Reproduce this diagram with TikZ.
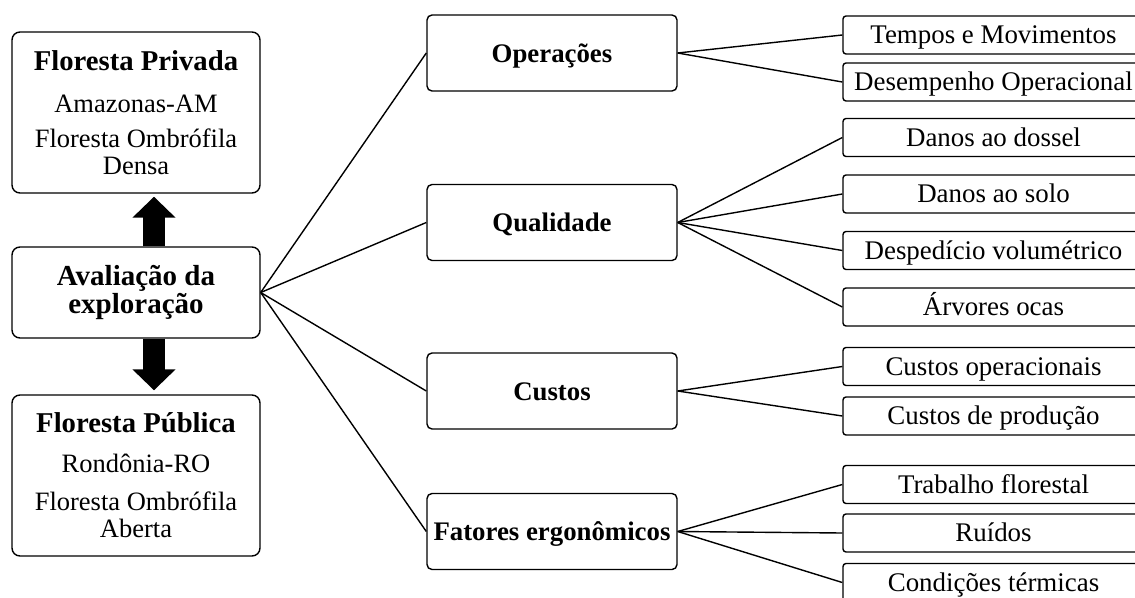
\documentclass[tikz,border=0pt]{standalone}
\usepackage{fontspec}
\setmainfont{Liberation Serif}
\usetikzlibrary{arrows.meta}
\begin{document}
\begin{tikzpicture}[x=1pt,y=-1pt,
  box/.style={draw, line width=1.4pt, align=center, inner sep=0pt},
  leftbox/.style={box, rounded corners=8pt, minimum width=248pt, minimum height=161pt, font=\fontsize{26.5}{27}\selectfont},
  avalbox/.style={box, rounded corners=8pt, minimum width=248pt, minimum height=91pt, font=\fontsize{29}{28}\selectfont\bfseries},
  midbox/.style={box, rounded corners=5pt, minimum width=250pt, minimum height=76pt, font=\fontsize{26.8}{27}\selectfont\bfseries, text height=18pt, text depth=0pt},
  subbox/.style={box, rounded corners=3pt, minimum width=301pt, minimum height=38pt, font=\fontsize{26.9}{27}\selectfont, text height=17.5pt, text depth=0pt},
  link/.style={line width=1.4pt},
  bigarrow/.style={line width=22pt, -{Triangle[width=42pt,length=21pt]}}]
\useasboundingbox (0,0) rectangle (1135,597);
\clip (0,0) rectangle (1135,597);

% left column
\node[leftbox] (priv) at (136,112.5) {{\fontsize{28.7}{27}\selectfont\bfseries Floresta Privada}\\[15pt]Amazonas-AM\\[8pt]Floresta Ombrófila\\Densa};
\node[avalbox] (aval) at (136,292.5) {Avaliação da\\exploração};
\node[leftbox] (publ) at (136,475.5) {{\fontsize{28.7}{27}\selectfont\bfseries Floresta Pública}\\[13pt]Rondônia-RO\\[11pt]Floresta Ombrófila\\Aberta};

\draw[bigarrow] ([xshift=18pt]aval.north) -- ([xshift=18pt,yshift=-3pt]priv.south);
\draw[bigarrow] ([xshift=18pt]aval.south) -- ([xshift=18pt,yshift=4pt]publ.north);

% middle column
\node[midbox] (op) at (552,53) {Operações};
\node[midbox] (qual) at (552,222.5) {Qualidade};
\node[midbox] (cust) at (552,391) {Custos};
\node[midbox] (fat) at (552,531.5) {Fatores ergonômicos};

% right column
\node[subbox] (s1) at (993.5,35) {Tempos e Movimentos};
\node[subbox] (s2) at (993.5,82) {Desempenho Operacional};
\node[subbox] (s3) at (993.5,137.5) {Danos ao dossel};
\node[subbox] (s4) at (993.5,194) {Danos ao solo};
\node[subbox] (s5) at (993.5,250.5) {Despedício volumétrico};
\node[subbox] (s6) at (993.5,307) {Árvores ocas};
\node[subbox] (s7) at (993.5,366.5) {Custos operacionais};
\node[subbox] (s8) at (993.5,416) {Custos de produção};
\node[subbox] (s9) at (993.5,484.5) {Trabalho florestal};
\node[subbox] (s10) at (993.5,533) {Ruídos};
\node[subbox] (s11) at (993.5,582.5) {Condições térmicas};

% connectors
\foreach \m in {op,qual,cust,fat} \draw[link] (aval.east) -- (\m.west);
\foreach \s in {s1,s2} \draw[link] (op.east) -- (\s.west);
\foreach \s in {s3,s4,s5,s6} \draw[link] (qual.east) -- (\s.west);
\foreach \s in {s7,s8} \draw[link] (cust.east) -- (\s.west);
\foreach \s in {s9,s10,s11} \draw[link] (fat.east) -- (\s.west);
\end{tikzpicture}
\end{document}
